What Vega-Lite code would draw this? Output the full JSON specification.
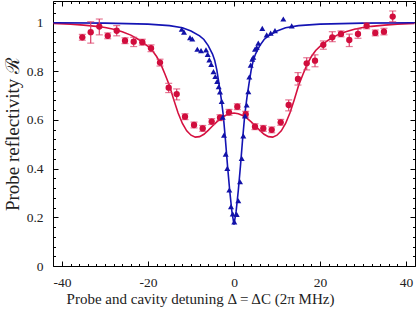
{
  "$schema": "https://vega.github.io/schema/vega-lite/v6.json",
  "width": 362,
  "height": 265,
  "autosize": "none",
  "padding": {"left": 53, "top": 1, "right": 1, "bottom": 43},
  "config": {
    "view": {"stroke": null},
    "axis": {
      "labelFont": "Liberation Serif", "labelFontSize": 13.5, "labelColor": "#222",
      "titleFont": "Liberation Serif", "titleFontSize": 15, "titleFontWeight": "normal", "titleColor": "#222",
      "tickColor": "#000", "domainColor": "#000", "grid": false
    }
  },
  "datasets": {
    "redfit": [
      {"x": -42, "y": 0.996}, {"x": -38, "y": 0.993}, {"x": -35, "y": 0.989}, {"x": -32, "y": 0.984},
      {"x": -30, "y": 0.979}, {"x": -28, "y": 0.972}, {"x": -26, "y": 0.962}, {"x": -24, "y": 0.948},
      {"x": -22, "y": 0.928}, {"x": -20, "y": 0.902}, {"x": -19, "y": 0.885}, {"x": -18, "y": 0.86},
      {"x": -17, "y": 0.828}, {"x": -16, "y": 0.785}, {"x": -15, "y": 0.74}, {"x": -14, "y": 0.682},
      {"x": -13, "y": 0.628}, {"x": -12, "y": 0.585}, {"x": -11, "y": 0.555}, {"x": -10, "y": 0.537},
      {"x": -9, "y": 0.529}, {"x": -8, "y": 0.531}, {"x": -7, "y": 0.541}, {"x": -6, "y": 0.557},
      {"x": -5, "y": 0.575}, {"x": -4, "y": 0.592}, {"x": -3, "y": 0.607}, {"x": -2, "y": 0.618},
      {"x": -1, "y": 0.625}, {"x": 0, "y": 0.628}, {"x": 1, "y": 0.625}, {"x": 2, "y": 0.618},
      {"x": 3, "y": 0.607}, {"x": 4, "y": 0.592}, {"x": 5, "y": 0.575}, {"x": 6, "y": 0.557},
      {"x": 7, "y": 0.541}, {"x": 8, "y": 0.531}, {"x": 9, "y": 0.529}, {"x": 10, "y": 0.537},
      {"x": 11, "y": 0.555}, {"x": 12, "y": 0.585}, {"x": 13, "y": 0.628}, {"x": 14, "y": 0.682},
      {"x": 15, "y": 0.74}, {"x": 16, "y": 0.785}, {"x": 17, "y": 0.828}, {"x": 18, "y": 0.86},
      {"x": 19, "y": 0.885}, {"x": 20, "y": 0.902}, {"x": 22, "y": 0.928}, {"x": 24, "y": 0.948},
      {"x": 26, "y": 0.962}, {"x": 28, "y": 0.972}, {"x": 30, "y": 0.979}, {"x": 32, "y": 0.984},
      {"x": 35, "y": 0.989}, {"x": 38, "y": 0.993}, {"x": 42, "y": 0.996}
    ],
    "bluefit": [
      {"x": -42, "y": 0.999}, {"x": -30, "y": 0.997}, {"x": -20, "y": 0.993}, {"x": -15, "y": 0.987},
      {"x": -12, "y": 0.978}, {"x": -10, "y": 0.965}, {"x": -8, "y": 0.945}, {"x": -7, "y": 0.93},
      {"x": -6, "y": 0.905}, {"x": -5, "y": 0.87}, {"x": -4.5, "y": 0.845}, {"x": -4, "y": 0.805},
      {"x": -3.5, "y": 0.75}, {"x": -3, "y": 0.69}, {"x": -2.5, "y": 0.62}, {"x": -2, "y": 0.52},
      {"x": -1.5, "y": 0.41}, {"x": -1, "y": 0.31}, {"x": -0.5, "y": 0.225}, {"x": 0, "y": 0.17},
      {"x": 0.5, "y": 0.225}, {"x": 1, "y": 0.31}, {"x": 1.5, "y": 0.41}, {"x": 2, "y": 0.52},
      {"x": 2.5, "y": 0.62}, {"x": 3, "y": 0.69}, {"x": 3.5, "y": 0.75}, {"x": 4, "y": 0.805},
      {"x": 4.5, "y": 0.845}, {"x": 5, "y": 0.87}, {"x": 6, "y": 0.905}, {"x": 7, "y": 0.93},
      {"x": 8, "y": 0.945}, {"x": 10, "y": 0.965}, {"x": 12, "y": 0.978}, {"x": 15, "y": 0.987},
      {"x": 20, "y": 0.993}, {"x": 30, "y": 0.997}, {"x": 42, "y": 0.999}
    ],
    "red": [
      {"x": -35.28, "y": 0.939, "lo": 0.927, "hi": 0.951},
      {"x": -33.33, "y": 0.96, "lo": 0.915, "hi": 1.003},
      {"x": -31.33, "y": 0.983, "lo": 0.949, "hi": 1.014},
      {"x": -29.37, "y": 0.945, "lo": 0.933, "hi": 0.957},
      {"x": -27.28, "y": 0.966, "lo": 0.945, "hi": 0.987},
      {"x": -25.35, "y": 0.925, "lo": 0.913, "hi": 0.937},
      {"x": -23.33, "y": 0.921, "lo": 0.901, "hi": 0.939},
      {"x": -21.33, "y": 0.919, "lo": 0.907, "hi": 0.931},
      {"x": -19.3, "y": 0.894, "lo": 0.88, "hi": 0.908},
      {"x": -17.21, "y": 0.835, "lo": 0.821, "hi": 0.849},
      {"x": -15.19, "y": 0.732, "lo": 0.712, "hi": 0.75},
      {"x": -13.33, "y": 0.706, "lo": 0.682, "hi": 0.727},
      {"x": -11.4, "y": 0.613, "lo": 0.601, "hi": 0.625},
      {"x": -9.3, "y": 0.579, "lo": 0.567, "hi": 0.591},
      {"x": -7.28, "y": 0.565, "lo": 0.553, "hi": 0.577},
      {"x": -5.19, "y": 0.593, "lo": 0.581, "hi": 0.605},
      {"x": -3.26, "y": 0.609, "lo": 0.597, "hi": 0.621},
      {"x": -1.16, "y": 0.631, "lo": 0.619, "hi": 0.643},
      {"x": 0.77, "y": 0.654, "lo": 0.642, "hi": 0.666},
      {"x": 2.72, "y": 0.623, "lo": 0.611, "hi": 0.635},
      {"x": 4.88, "y": 0.572, "lo": 0.56, "hi": 0.584},
      {"x": 6.81, "y": 0.565, "lo": 0.553, "hi": 0.577},
      {"x": 8.77, "y": 0.559, "lo": 0.547, "hi": 0.571},
      {"x": 10.86, "y": 0.59, "lo": 0.578, "hi": 0.602},
      {"x": 12.72, "y": 0.661, "lo": 0.637, "hi": 0.682},
      {"x": 14.88, "y": 0.768, "lo": 0.743, "hi": 0.794},
      {"x": 16.91, "y": 0.832, "lo": 0.805, "hi": 0.855},
      {"x": 18.84, "y": 0.843, "lo": 0.818, "hi": 0.867},
      {"x": 20.77, "y": 0.908, "lo": 0.89, "hi": 0.924},
      {"x": 22.86, "y": 0.939, "lo": 0.921, "hi": 0.962},
      {"x": 24.88, "y": 0.953, "lo": 0.941, "hi": 0.965},
      {"x": 26.81, "y": 0.928, "lo": 0.901, "hi": 0.952},
      {"x": 28.84, "y": 0.953, "lo": 0.935, "hi": 0.973},
      {"x": 30.86, "y": 0.986, "lo": 0.974, "hi": 0.998},
      {"x": 32.86, "y": 0.957, "lo": 0.945, "hi": 0.969},
      {"x": 34.88, "y": 0.962, "lo": 0.949, "hi": 0.976},
      {"x": 36.91, "y": 1.024, "lo": 1.003, "hi": 1.047}
    ],
    "blue": [
      {"x": -12.16, "y": 0.972}, {"x": -11.63, "y": 0.96}, {"x": -10.23, "y": 0.938}, {"x": -9.7, "y": 0.932},
      {"x": -8.53, "y": 0.89}, {"x": -7.67, "y": 0.884}, {"x": -6.51, "y": 0.887}, {"x": -6.12, "y": 0.869},
      {"x": -5.74, "y": 0.846}, {"x": -5.3, "y": 0.828}, {"x": -4.77, "y": 0.798}, {"x": -4.35, "y": 0.778},
      {"x": -3.91, "y": 0.758}, {"x": -3.56, "y": 0.736}, {"x": -3.26, "y": 0.715}, {"x": -2.86, "y": 0.676},
      {"x": -2.63, "y": 0.611}, {"x": -2.33, "y": 0.537}, {"x": -1.93, "y": 0.459}, {"x": -1.56, "y": 0.401},
      {"x": -1.09, "y": 0.312}, {"x": -0.7, "y": 0.244}, {"x": -0.3, "y": 0.214}, {"x": 0.07, "y": 0.181},
      {"x": 0.63, "y": 0.212}, {"x": 1.0, "y": 0.268}, {"x": 1.4, "y": 0.346}, {"x": 1.79, "y": 0.442},
      {"x": 2.16, "y": 0.534}, {"x": 2.56, "y": 0.616}, {"x": 2.95, "y": 0.661}, {"x": 3.33, "y": 0.716},
      {"x": 3.56, "y": 0.776}, {"x": 3.88, "y": 0.825}, {"x": 4.26, "y": 0.849}, {"x": 4.49, "y": 0.857},
      {"x": 4.88, "y": 0.89}, {"x": 5.28, "y": 0.897}, {"x": 5.65, "y": 0.915}, {"x": 6.58, "y": 0.976},
      {"x": 7.6, "y": 0.949}, {"x": 8.53, "y": 0.956}, {"x": 9.53, "y": 0.966}, {"x": 11.47, "y": 1.014},
      {"x": 13.42, "y": 0.986}
    ]
  },
  "resolve": {"axis": {"x": "independent", "y": "independent"}},
  "layer": [
    {
      "data": {"name": "redfit"},
      "mark": {"type": "line", "color": "#d5103f", "strokeWidth": 1.6, "clip": true},
      "encoding": {
        "x": {"field": "x", "type": "quantitative", "scale": {"domain": [-42.1, 42.1], "nice": false, "zero": false},
          "axis": {"orient": "bottom", "values": [-40, -20, 0, 20, 40], "tickSize": -5, "labelPadding": 14, "labelExpr": "toString(datum.value)",
            "title": "Probe and cavity detuning Δ = ΔC (2π MHz)", "titlePadding": 3, "titleX": 147}},
        "y": {"field": "y", "type": "quantitative", "scale": {"domain": [0, 1.088], "nice": false, "zero": false},
          "axis": {"orient": "left", "values": [0, 0.2, 0.4, 0.6, 0.8, 1], "tickSize": -5, "labelPadding": 15, "labelExpr": "toString(datum.value)",
            "title": "Probe reflectivity ℛ", "titleFontSize": 19, "titlePadding": 4}}
      }
    },
    {
      "data": {"name": "bluefit"},
      "mark": {"type": "line", "color": "#1414b4", "strokeWidth": 1.6, "clip": true},
      "encoding": {
        "x": {"field": "x", "type": "quantitative",
          "axis": {"orient": "top", "values": [-40, -20, 0, 20, 40], "tickSize": -5, "labels": false, "title": null}},
        "y": {"field": "y", "type": "quantitative",
          "axis": {"orient": "right", "values": [0, 0.2, 0.4, 0.6, 0.8, 1], "tickSize": -5, "labels": false, "title": null}}
      }
    },
    {
      "data": {"name": "red"},
      "mark": {"type": "rule", "color": "#dc3f68", "strokeWidth": 1.2},
      "encoding": {
        "x": {"field": "x", "type": "quantitative",
          "axis": {"orient": "bottom", "values": [-42, -38, -36, -34, -32, -30, -28, -26, -24, -22, -18, -16, -14, -12, -10, -8, -6, -4, -2, 2, 4, 6, 8, 10, 12, 14, 16, 18, 22, 24, 26, 28, 30, 32, 34, 36, 38, 42], "tickSize": -2.5, "labels": false, "domain": false, "title": null}},
        "y": {"field": "lo", "type": "quantitative",
          "axis": {"orient": "left", "values": [0.04, 0.08, 0.12, 0.16, 0.24, 0.28, 0.32, 0.36, 0.44, 0.48, 0.52, 0.56, 0.64, 0.68, 0.72, 0.76, 0.84, 0.88, 0.92, 0.96, 1.04, 1.08], "tickSize": -2.5, "labels": false, "domain": false, "title": null}},
        "y2": {"field": "hi"}
      }
    },
    {
      "data": {"name": "red"},
      "transform": [{"fold": ["lo", "hi"], "as": ["end", "v"]}],
      "mark": {"type": "tick", "orient": "horizontal", "color": "#dc3f68", "thickness": 1.2, "size": 7},
      "encoding": {
        "x": {"field": "x", "type": "quantitative",
          "axis": {"orient": "top", "values": [-42, -38, -36, -34, -32, -30, -28, -26, -24, -22, -18, -16, -14, -12, -10, -8, -6, -4, -2, 2, 4, 6, 8, 10, 12, 14, 16, 18, 22, 24, 26, 28, 30, 32, 34, 36, 38, 42], "tickSize": -2.5, "labels": false, "domain": false, "title": null}},
        "y": {"field": "v", "type": "quantitative",
          "axis": {"orient": "right", "values": [0.04, 0.08, 0.12, 0.16, 0.24, 0.28, 0.32, 0.36, 0.44, 0.48, 0.52, 0.56, 0.64, 0.68, 0.72, 0.76, 0.84, 0.88, 0.92, 0.96, 1.04, 1.08], "tickSize": -2.5, "labels": false, "domain": false, "title": null}}
      }
    },
    {
      "data": {"name": "red"},
      "mark": {"type": "point", "shape": "circle", "filled": true, "size": 40, "color": "#d10d3d", "opacity": 1},
      "encoding": {
        "x": {"field": "x", "type": "quantitative", "axis": null},
        "y": {"field": "y", "type": "quantitative", "axis": null}
      }
    },
    {
      "data": {"name": "blue"},
      "mark": {"type": "point", "shape": "triangle-up", "filled": true, "size": 36, "color": "#1212a8", "opacity": 1},
      "encoding": {
        "x": {"field": "x", "type": "quantitative", "axis": null},
        "y": {"field": "y", "type": "quantitative", "axis": null}
      }
    }
  ]
}
